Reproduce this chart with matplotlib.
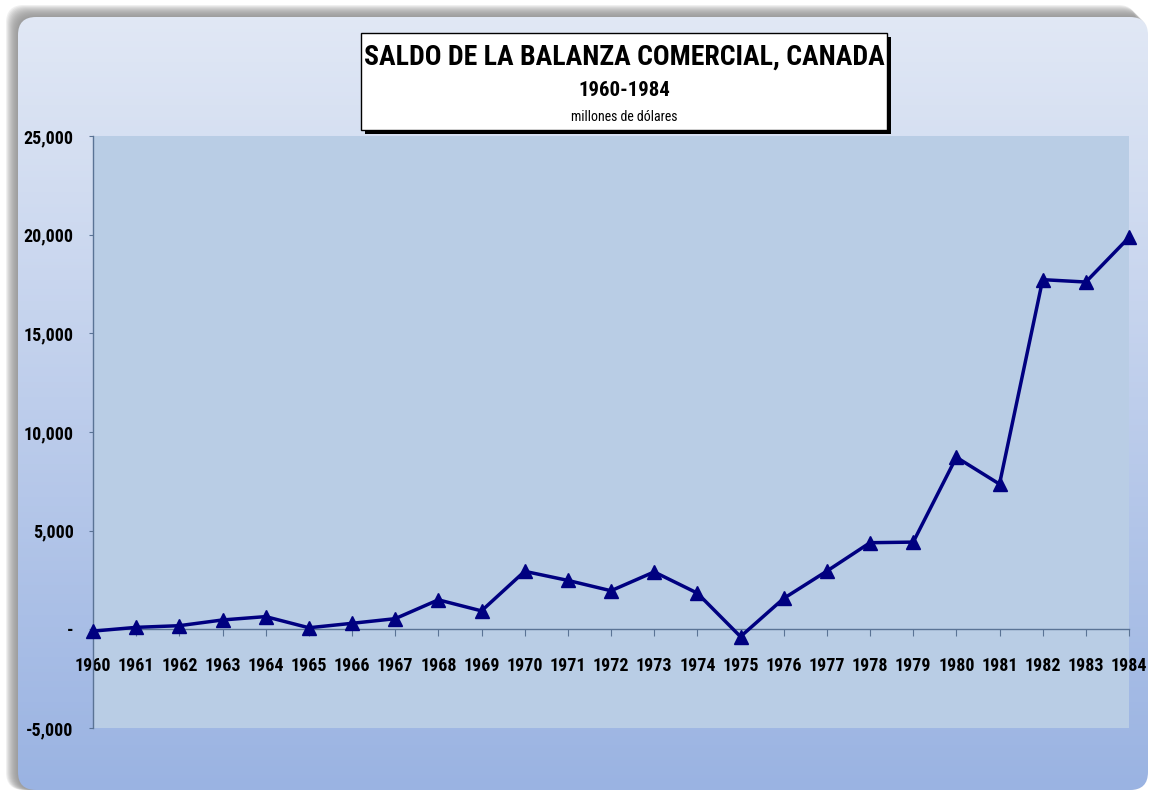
import matplotlib
matplotlib.use("Agg")
import matplotlib.pyplot as plt
import numpy as np
from matplotlib.patches import FancyBboxPatch, Rectangle
from matplotlib.ticker import FuncFormatter, MultipleLocator

years = list(range(1960, 1985))
saldo = [
    -90, 100, 185, 475, 645, 80, 305, 540, 1495, 935,
    2940, 2480, 1955, 2910, 1835, -370, 1565, 2950, 4390, 4420,
    8720, 7360, 17720, 17600, 19860,
]

title = "SALDO DE LA BALANZA COMERCIAL, CANADA"
subtitle = "1960-1984"
units = "millones de dólares"

FONT = ["Roboto Condensed", "PT Sans Narrow", "DejaVu Sans"]
plt.rcParams["font.family"] = FONT

W, H = 1150, 792
fig = plt.figure(figsize=(W / 100, H / 100), dpi=100)
fig.patch.set_facecolor("white")

# background panel in pixel coordinates
bg = fig.add_axes([0, 0, 1, 1], zorder=0)
bg.set_xlim(0, W)
bg.set_ylim(H, 0)
bg.axis("off")

# soft grey shadow on the top/left of the rounded panel
for off in range(12, 0, -1):
    bg.add_patch(FancyBboxPatch((18 - off, 17 - off), 1130, 773 + off,
                                boxstyle="round,pad=0,rounding_size=18",
                                facecolor="#8c8c8c", edgecolor="none", alpha=0.13))

panel = FancyBboxPatch((18, 17), 1130, 773, boxstyle="round,pad=0,rounding_size=18",
                       facecolor="none", edgecolor="none")
bg.add_patch(panel)
top_c = np.array([0xE1, 0xE8, 0xF5]) / 255
bot_c = np.array([0x9A, 0xB3, 0xE2]) / 255
t = np.linspace(0, 1, 256)[:, None]
grad = (top_c[None, :] * (1 - t) + bot_c[None, :] * t)[:, None, :]
img = bg.imshow(grad, extent=[18, 1148, 790, 17], aspect="auto", zorder=1)
img.set_clip_path(panel)

# title box
bg.add_patch(Rectangle((365, 37), 526, 97, facecolor="black", edgecolor="none", zorder=2))
bg.add_patch(Rectangle((361, 33), 526, 97, facecolor="white", edgecolor="black",
                       linewidth=1, zorder=3))
bg.text(624, 57, title, ha="center", va="center", fontsize=20, fontweight="bold", zorder=4)
bg.text(624, 90, subtitle, ha="center", va="center", fontsize=15, fontweight="bold", zorder=4)
bg.text(624, 117, units, ha="center", va="center", fontsize=10, zorder=4)

# plot area
ax = fig.add_axes([93 / W, 1 - 728 / H, (1129 - 93) / W, (728 - 136) / H], zorder=1)
ax.set_facecolor("#B9CDE5")
ax.plot(years, saldo, color="#000080", linewidth=2.5, marker="^", markersize=10,
        clip_on=False, zorder=3)

ax.set_xlim(1960, 1984)
ax.set_ylim(-5000, 25000)
ax.yaxis.set_major_locator(MultipleLocator(5000))
ax.yaxis.set_major_formatter(FuncFormatter(lambda v, p: "-" if v == 0 else f"{v:,.0f}"))
ax.set_xticks(years)
ax.set_xticklabels([str(y) for y in years])

spine_c = "#5A7395"
for s in ("top", "right"):
    ax.spines[s].set_visible(False)
ax.spines["bottom"].set_position(("data", 0))
ax.spines["bottom"].set_color(spine_c)
ax.spines["left"].set_color(spine_c)
ax.spines["bottom"].set_linewidth(1)
ax.spines["left"].set_linewidth(1)

ax.tick_params(axis="x", direction="out", length=5, width=0.8, color=spine_c, pad=15,
               labelsize=13)
ax.tick_params(axis="y", direction="out", length=3, width=0.8, color=spine_c, pad=11,
               labelsize=13)
for lab in ax.get_xticklabels() + ax.get_yticklabels():
    lab.set_fontweight("bold")

fig.savefig("out.png", dpi=100)
